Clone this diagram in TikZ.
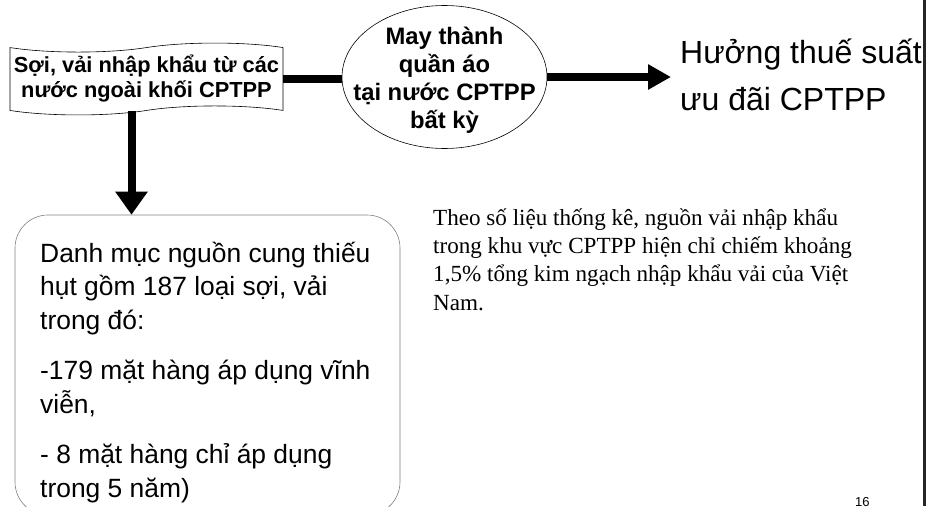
\documentclass[tikz,border=0pt]{standalone}
\usepackage{fontspec}
\setmainfont{Liberation Serif}
\setsansfont{Liberation Sans}
\usetikzlibrary{shapes.symbols,shapes.geometric,arrows.meta}

\begin{document}
\begin{tikzpicture}[x=1pt,y=-1pt,
    source/.style={tape, draw, line width=0.6pt, minimum width=273pt, minimum height=62pt,
        tape bend height=9pt, align=center, font=\sffamily\bfseries\fontsize{21.8}{25}\selectfont},
    sewing/.style={ellipse, draw, line width=0.6pt, minimum width=205pt, minimum height=143pt},
    sewtext/.style={align=center, inner sep=0pt, font=\sffamily\bfseries\fontsize{23.8}{27.7}\selectfont},
    result/.style={align=left, inner sep=0pt, font=\sffamily\fontsize{32}{47}\selectfont},
    listbox/.style={draw=black!50, line width=0.6pt, rounded corners=33pt,
        minimum width=385pt, minimum height=300pt},
    listtext/.style={align=left, inner sep=0pt, font=\sffamily\fontsize{26.4}{33.5}\selectfont},
    note/.style={align=left, inner sep=0pt, font=\rmfamily\fontsize{23.1}{28.3}\selectfont},
    link/.style={line width=8pt},
    fatarrow/.style={line width=8pt, -{Triangle[length=23pt,width=#1]}}]
    \useasboundingbox (0,0) rectangle (928,506);
    \clip (0,0) rectangle (928,506);

    % Draw the three stages
    \node[source] (yarn) at (146.5,79) {Sợi, vải nhập khẩu từ các\\nước ngoài khối CPTPP};
    \node[sewing] (sew) at (444.5,77) {};
    \node[sewtext, anchor=base] (sewlabel) at (444.5,128) {May thành\\quần áo\\tại nước CPTPP\\bất kỳ};
    \node[result, anchor=base west] (tariff) at (680,110) {Hưởng thuế suất\\ưu đãi CPTPP};

    % Draw the list box below
    \node[listbox] (list) at (207.5,365) {};
    \node[listtext, anchor=base west] (items) at (40,497) {Danh mục nguồn cung thiếu\\hụt gồm 187 loại sợi, vải\\trong đó:\\[17pt]-179 mặt hàng áp dụng vĩnh\\viễn,\\[17pt]- 8 mặt hàng chỉ áp dụng\\trong 5 năm)};

    % Add the note and the page number
    \node[note, anchor=base west] (stat) at (433,310) {Theo số liệu thống kê, nguồn vải nhập khẩu\\trong khu vực CPTPP hiện chỉ chiếm khoảng\\1,5\% tổng kim ngạch nhập khẩu vải của Việt\\Nam.};
    \node[anchor=north west, inner sep=0pt, font=\sffamily\fontsize{13}{13}\selectfont] (page) at (855,497) {16};

    % Connect the stages
    \draw[link] (yarn.east) -- (yarn.east -| sew.west);
    \draw[fatarrow=24pt] (sew.east) -- ([xshift=-9pt]tariff.west |- sew.east);
    \draw[fatarrow=31pt] ([xshift=-15pt]yarn.south) -- ([xshift=-15pt]yarn.south |- list.north);

    % Slide edge on the right
    \draw[line width=3pt, black!85] (924,0) -- (924,506);
\end{tikzpicture}
\end{document}
